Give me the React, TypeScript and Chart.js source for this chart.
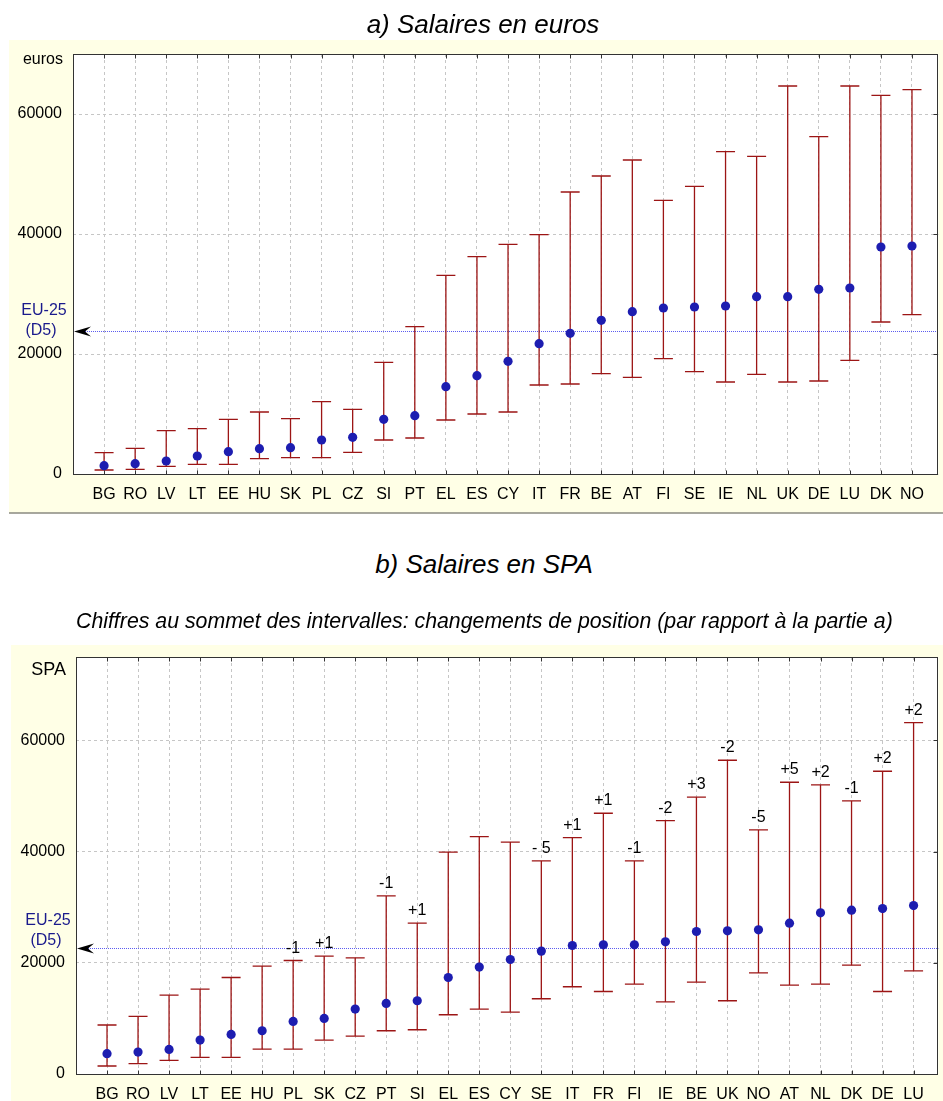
import { useEffect, useRef } from "react";
import { Chart, registerables } from "chart.js";

Chart.register(...registerables);

// ---------- Data ----------
const countriesA = ["BG", "RO", "LV", "LT", "EE", "HU", "SK", "PL", "CZ", "SI", "PT", "EL", "ES", "CY", "IT", "FR", "BE", "AT", "FI", "SE", "IE", "NL", "UK", "DE", "LU", "DK", "NO"];
const medianA = [1390, 1720, 2170, 3000, 3720, 4220, 4390, 5670, 6110, 9110, 9720, 14560, 16390, 18780, 21720, 23440, 25610, 27060, 27670, 27830, 28000, 29560, 29560, 30780, 31000, 37830, 38000];
const lowA = [670, 780, 1280, 1610, 1610, 2560, 2720, 2720, 3610, 5670, 6000, 9000, 10000, 10330, 14830, 15000, 16720, 16110, 19220, 17060, 15330, 16610, 15330, 15500, 18940, 25330, 26560];
const highA = [3560, 4280, 7220, 7560, 9110, 10330, 9220, 12060, 10780, 18610, 24560, 33110, 36220, 38280, 39890, 47000, 49670, 52330, 45610, 47940, 53720, 52940, 64670, 56220, 64670, 63110, 64060];

const countriesB = ["BG", "RO", "LV", "LT", "EE", "HU", "PL", "SK", "CZ", "PT", "SI", "EL", "ES", "CY", "SE", "IT", "FR", "FI", "IE", "BE", "UK", "NO", "AT", "NL", "DK", "DE", "LU"];
const medianB = [3650, 3950, 4420, 6110, 7120, 7780, 9450, 9990, 11680, 12690, 13170, 17360, 19230, 20590, 22100, 23110, 23240, 23240, 23770, 25630, 25750, 25930, 27130, 28990, 29470, 29760, 30300];
const lowB = [1440, 1850, 2440, 2980, 2980, 4490, 4490, 6110, 6830, 7780, 7960, 10660, 11680, 11140, 13530, 15690, 14840, 16170, 12990, 16530, 13170, 18200, 15990, 16170, 19590, 14840, 18560];
const highB = [8810, 10350, 14200, 15270, 17360, 19410, 20410, 21210, 20900, 32040, 27130, 39890, 42700, 41690, 38330, 42520, 46900, 38330, 45570, 49780, 56430, 43900, 52470, 51990, 49110, 54450, 63180];
const changesB = ["", "", "", "", "", "", "-1", "+1", "", "-1", "+1", "", "", "", "- 5", "+1", "+1", "-1", "-2", "+3", "-2", "-5", "+5", "+2", "-1", "+2", "+2"];

const yTickValues = [0, 20000, 40000, 60000];
const euMedianA = 23900;
const euMedianB = 22750;

const FONT = '"Liberation Sans", Arial, Helvetica, sans-serif';

type Spec = {
  labels: string[];
  median: number[];
  low: number[];
  high: number[];
  changes?: string[];
  eu: number;
  yMax: number;
  xMax: number;
  width: number;
  height: number;
  plotLeft: number;
  plotTop: number;
  plotRight: number;
  plotBottom: number;
  panelX: number;
  panelY: number;
  panelH: number;
  bottomLine: boolean;
};

function makePlugin(spec: Spec) {
  return {
    id: "whiskerPanel",
    beforeDraw(chart: any) {
      const { ctx, chartArea: a } = chart;
      ctx.save();
      ctx.fillStyle = "#FFFFE6";
      ctx.fillRect(spec.panelX, spec.panelY, chart.width - spec.panelX, spec.panelH);
      if (spec.bottomLine) {
        ctx.strokeStyle = "#8a8a80";
        ctx.lineWidth = 1.5;
        ctx.beginPath();
        ctx.moveTo(spec.panelX, spec.panelY + spec.panelH);
        ctx.lineTo(chart.width, spec.panelY + spec.panelH);
        ctx.stroke();
      }
      ctx.fillStyle = "#ffffff";
      ctx.fillRect(a.left, a.top, a.right - a.left, a.bottom - a.top);
      ctx.restore();
    },
    beforeDatasetsDraw(chart: any) {
      const { ctx, chartArea: a } = chart;
      const xs = chart.scales.x;
      const ys = chart.scales.y;
      ctx.save();
      // EU-25 median line
      const yEu = Math.round(ys.getPixelForValue(spec.eu)) + 0.5;
      ctx.strokeStyle = "#5c5cf0";
      ctx.lineWidth = 1;
      ctx.setLineDash([1, 1]);
      ctx.beginPath();
      ctx.moveTo(a.left + 10, yEu);
      ctx.lineTo(a.right, yEu);
      ctx.stroke();
      ctx.setLineDash([]);
      // arrow head
      ctx.fillStyle = "#000";
      ctx.beginPath();
      ctx.moveTo(a.left + 1, yEu);
      ctx.lineTo(a.left + 18, yEu - 5);
      ctx.lineTo(a.left + 12, yEu);
      ctx.lineTo(a.left + 18, yEu + 5);
      ctx.closePath();
      ctx.fill();
      // whiskers
      ctx.strokeStyle = "#9c1515";
      ctx.lineWidth = 1.3;
      for (let i = 0; i < spec.labels.length; i++) {
        const px = xs.getPixelForValue(i + 1);
        const yl = ys.getPixelForValue(spec.low[i]);
        const yh = ys.getPixelForValue(spec.high[i]);
        ctx.beginPath();
        ctx.moveTo(px, yl);
        ctx.lineTo(px, yh);
        ctx.moveTo(px - 9.5, yl);
        ctx.lineTo(px + 9.5, yl);
        ctx.moveTo(px - 9.5, yh);
        ctx.lineTo(px + 9.5, yh);
        ctx.stroke();
      }
      ctx.restore();
    },
    afterDatasetsDraw(chart: any) {
      const { ctx, chartArea: a } = chart;
      const xs = chart.scales.x;
      const ys = chart.scales.y;
      ctx.save();
      // frame
      ctx.strokeStyle = "#333";
      ctx.lineWidth = 1;
      const l = Math.round(a.left) + 0.5;
      const t = Math.round(a.top) + 0.5;
      const r = Math.round(a.right) - 0.5;
      const b = Math.round(a.bottom) + 0.5;
      ctx.strokeRect(l, t, r - l, b - t);
      // tick marks inside
      ctx.beginPath();
      for (let i = 0; i < spec.labels.length; i++) {
        const px = Math.round(xs.getPixelForValue(i + 1)) + 0.5;
        ctx.moveTo(px, b);
        ctx.lineTo(px, b - 4);
        ctx.moveTo(px, t);
        ctx.lineTo(px, t + 4);
      }
      for (const v of yTickValues) {
        const py = Math.round(ys.getPixelForValue(v)) + 0.5;
        ctx.moveTo(r, py);
        ctx.lineTo(r - 4, py);
      }
      ctx.stroke();
      // change-of-rank labels
      if (spec.changes) {
        ctx.fillStyle = "#000";
        ctx.font = `16px ${FONT}`;
        ctx.textAlign = "center";
        ctx.textBaseline = "alphabetic";
        spec.changes.forEach((txt, i) => {
          if (!txt) return;
          const px = xs.getPixelForValue(i + 1);
          const py = ys.getPixelForValue(spec.high[i]);
          ctx.fillText(txt, px, py - 8);
        });
      }
      ctx.restore();
    },
  };
}

function buildConfig(spec: Spec): any {
  const gridOpts = { color: "#c6c6c6", lineWidth: 1, drawTicks: false };
  const tickFont = { family: FONT, size: 16 };
  return {
    type: "scatter",
    data: {
      datasets: [
        {
          data: spec.median.map((v, i) => ({ x: i + 1, y: v })),
          pointRadius: 4.6,
          pointHoverRadius: 4.6,
          backgroundColor: "#1d1db0",
          borderColor: "#1d1db0",
          borderWidth: 0,
          showLine: false,
        },
      ],
    },
    options: {
      responsive: false,
      animation: false,
      events: [],
      layout: {
        padding: { left: 0, top: spec.plotTop, right: spec.width - spec.plotRight, bottom: 0 },
      },
      plugins: { legend: { display: false }, tooltip: { enabled: false }, title: { display: false } },
      scales: {
        x: {
          type: "linear",
          min: 0,
          max: spec.xMax,
          afterBuildTicks: (s: any) => {
            s.ticks = spec.labels.map((_, i) => ({ value: i + 1 }));
          },
          afterFit: (s: any) => {
            s.height = spec.height - spec.plotBottom;
          },
          ticks: {
            autoSkip: false,
            maxRotation: 0,
            minRotation: 0,
            padding: 11,
            color: "#000",
            font: tickFont,
            callback: (v: number) => spec.labels[Math.round(v) - 1] ?? "",
          },
          grid: gridOpts,
          border: { display: false, dash: [3, 3] },
        },
        y: {
          type: "linear",
          min: 0,
          max: spec.yMax,
          afterBuildTicks: (s: any) => {
            s.ticks = yTickValues.map((v) => ({ value: v }));
          },
          afterFit: (s: any) => {
            s.width = spec.plotLeft;
          },
          ticks: {
            padding: 11,
            color: "#000",
            font: tickFont,
            callback: (v: number) => String(v),
          },
          grid: gridOpts,
          border: { display: false, dash: [3, 3] },
        },
      },
    },
    plugins: [makePlugin(spec)],
  };
}

const specA: Spec = {
  labels: countriesA,
  median: medianA,
  low: lowA,
  high: highA,
  eu: euMedianA,
  yMax: 70000,
  xMax: 27.85,
  width: 943,
  height: 520,
  plotLeft: 73,
  plotTop: 54,
  plotRight: 943,
  plotBottom: 474,
  panelX: 9,
  panelY: 40,
  panelH: 473,
  bottomLine: true,
};

const specB: Spec = {
  labels: countriesB,
  median: medianB,
  low: lowB,
  high: highB,
  changes: changesB,
  eu: euMedianB,
  yMax: 75000,
  xMax: 27.8,
  width: 943,
  height: 501,
  plotLeft: 76,
  plotTop: 57,
  plotRight: 943,
  plotBottom: 474,
  panelX: 11,
  panelY: 45,
  panelH: 456,
  bottomLine: false,
};

function ChartCanvas({ spec, top }: { spec: Spec; top: number }) {
  const ref = useRef<HTMLCanvasElement | null>(null);
  useEffect(() => {
    if (!ref.current) return;
    const chart = new Chart(ref.current, buildConfig(spec));
    return () => chart.destroy();
  }, [spec]);
  return (
    <canvas
      ref={ref}
      width={spec.width}
      height={spec.height}
      style={{ position: "absolute", left: 0, top, width: spec.width, height: spec.height }}
    />
  );
}

const textBase: any = { position: "absolute", fontFamily: FONT, lineHeight: 1, whiteSpace: "nowrap" };

export default function App() {
  return (
    <div style={{ position: "absolute", left: 0, top: 0, width: 943, height: 1101, background: "#fff", overflow: "hidden" }}>
      <ChartCanvas spec={specA} top={0} />
      <ChartCanvas spec={specB} top={600} />

      <div style={{ ...textBase, left: 483, top: 11, fontSize: 26, fontStyle: "italic", transform: "translateX(-50%)", color: "#000" }}>
        a) Salaires en euros
      </div>
      <div style={{ ...textBase, left: 484, top: 551, fontSize: 26, fontStyle: "italic", transform: "translateX(-50%)", color: "#000" }}>
        b) Salaires en SPA
      </div>
      <div style={{ ...textBase, left: 76, top: 611, fontSize: 21.3, fontStyle: "italic", color: "#000" }}>
        Chiffres au sommet des intervalles: changements de position (par rapport à la partie a)
      </div>

      <div style={{ ...textBase, left: 0, width: 63, textAlign: "right", top: 51, fontSize: 16, color: "#000" }}>euros</div>
      <div style={{ ...textBase, left: 44, top: 302, fontSize: 16, color: "#1a1a8c", transform: "translateX(-50%)" }}>EU-25</div>
      <div style={{ ...textBase, left: 41, top: 322, fontSize: 16, color: "#1a1a8c", transform: "translateX(-50%)" }}>(D5)</div>

      <div style={{ ...textBase, left: 0, width: 66, textAlign: "right", top: 660, fontSize: 18, color: "#000" }}>SPA</div>
      <div style={{ ...textBase, left: 48, top: 912, fontSize: 16, color: "#1a1a8c", transform: "translateX(-50%)" }}>EU-25</div>
      <div style={{ ...textBase, left: 46, top: 932, fontSize: 16, color: "#1a1a8c", transform: "translateX(-50%)" }}>(D5)</div>
    </div>
  );
}
